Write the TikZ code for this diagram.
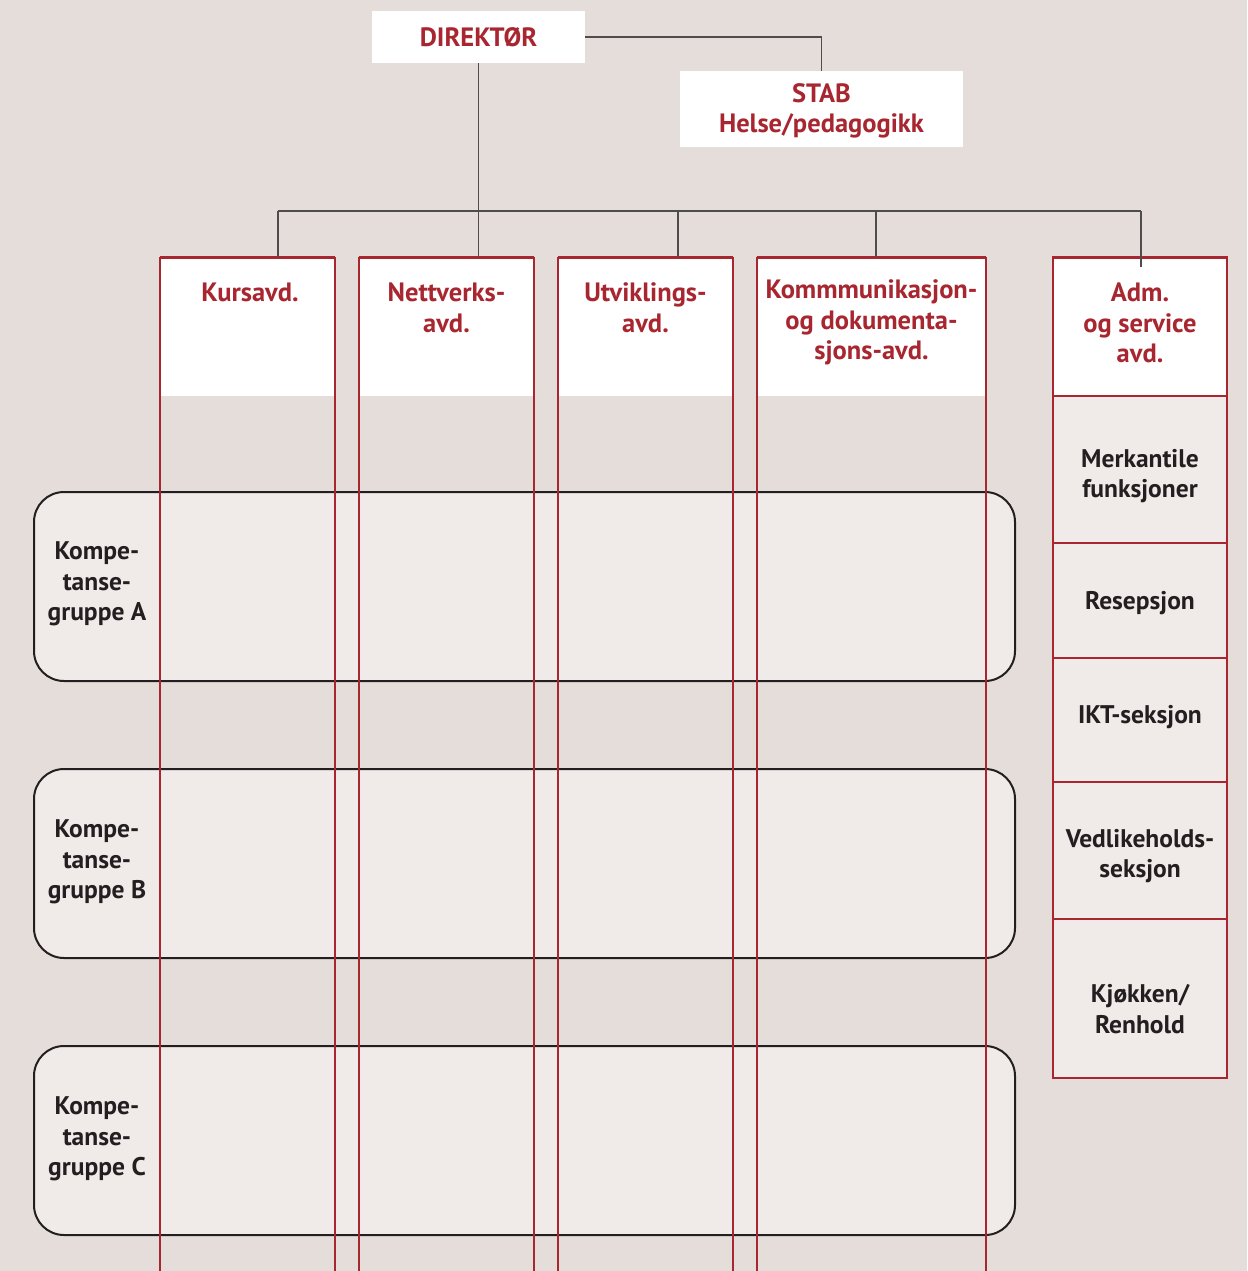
\documentclass[tikz,border=0pt]{standalone}
\usepackage{fontspec}
\setmainfont{PT Sans}
\definecolor{bgc}{RGB}{229,221,217}
\definecolor{lightc}{RGB}{240,235,232}
\definecolor{redc}{RGB}{168,38,48}
\definecolor{darkc}{RGB}{35,31,32}
\begin{document}
\begin{tikzpicture}[x=1pt,y=-1pt,
  every node/.style={inner sep=0pt,outer sep=0pt},
  topbox/.style={fill=white,minimum width=#1,anchor=center},
  hdr/.style={fill=white,minimum width=#1,minimum height=139pt,anchor=north},
  cell/.style={fill=lightc,draw=redc,line width=2.4pt,minimum width=174pt,minimum height=#1},
  grp/.style={fill=lightc,draw=darkc,line width=2pt,rounded corners=30pt,minimum width=981pt,minimum height=189pt},
  redtxt/.style={text=redc,font=\fontsize{26.5}{30.5}\selectfont\bfseries,align=center},
  blktxt/.style={text=darkc,font=\fontsize{25.5}{30.5}\selectfont\bfseries,align=center},
  redline/.style={draw=redc,line width=2.6pt},
  conn/.style={draw=darkc!80,line width=1.1pt}]
\useasboundingbox (0,0) rectangle (1247,1271);
\fill[bgc] (0,0) rectangle (1247,1271);

% top boxes
\node[topbox=213pt,minimum height=52pt] (dir) at (478.5,37) {};
\node[redtxt] (dirt) at (478.5,37) {DIREKTØR};
\node[topbox=283pt,minimum height=76pt] (stab) at (821.5,109) {};
\node[redtxt] (stabt) at (821.5,111) {STAB\\Helse/pedagogikk};

% column headers
\node[hdr=175pt] (kurs) at (247.5,257) {};
\node[hdr=175pt] (nett) at (446.5,257) {};
\node[hdr=175pt] (utv) at (645.5,257) {};
\node[hdr=229pt] (komm) at (871.5,257) {};
\node[hdr=174pt] (adm) at (1140,257) {};

% adm cells
\node[cell=147pt] (merk) at (1140,469.5) {};
\node[cell=115pt] (res) at (1140,600.5) {};
\node[cell=124pt] (ikt) at (1140,720) {};
\node[cell=137pt] (ved) at (1140,850.5) {};
\node[cell=159pt] (kjo) at (1140,998.5) {};
\draw[redline] (adm.south west) -- (adm.north west) -- (adm.north east) -- (adm.south east);
\draw[redc,line width=3pt] (adm.north west) -- (adm.north east);
\draw[redline] (adm.south west) -- (kjo.south west) -- (kjo.south east) -- (adm.south east);

% competence groups
\node[grp] (ga) at (524.5,586.5) {};
\node[grp] (gb) at (524.5,863.5) {};
\node[grp] (gc) at (524.5,1140.5) {};

% column lines
\foreach \c in {kurs,nett,utv,komm}{
  \draw[redline] (\c.north west) -- (\c.north west |- 0,1271);
  \draw[redline] (\c.north east) -- (\c.north east |- 0,1271);
  \draw[redc,line width=3pt] (\c.north west) -- (\c.north east);
}

% header texts
\node[redtxt,anchor=north] (kurst) at (250,283) {Kursavd.};
\node[redtxt,anchor=north] (nettt) at (446.5,283) {Nettverks-\\avd.};
\node[redtxt,anchor=north] (utvt) at (645.5,283) {Utviklings-\\avd.};
\node[redtxt,anchor=north] (kommt) at (871.5,280) {Kommmunikasjon-\\og dokumenta-\\sjons-avd.};
\node[redtxt,anchor=north] (admt) at (1140,283) {Adm.\\og service\\avd.};

% cell texts
\node[blktxt] (merkt) at (1140,476) {Merkantile\\funksjoner};
\node[blktxt] (rest) at (1140,603) {Resepsjon};
\node[blktxt] (iktt) at (1140,717) {IKT-seksjon};
\node[blktxt] (vedt) at (1140,856) {Vedlikeholds-\\seksjon};
\node[blktxt] (kjot) at (1140,1009) {Kjøkken/\\Renhold};

% group texts
\node[blktxt] (gat) at (97,584) {Kompe-\\tanse-\\gruppe A};
\node[blktxt] (gbt) at (97,862) {Kompe-\\tanse-\\gruppe B};
\node[blktxt] (gct) at (97,1139) {Kompe-\\tanse-\\gruppe C};

% connectors
\coordinate (b1) at (278,211);
\coordinate (b2) at (dir.south |- b1);
\coordinate (b3) at (678,211);
\coordinate (b4) at (876,211);
\coordinate (b5) at (1141,211);
\draw[conn] (dir.east) -| (stab.north);
\draw[conn] (dir.south) -- (b2);
\draw[conn] (b1) -- (b5);
\draw[conn] (b1) -- (b1 |- kurs.north);
\draw[conn] (b2) -- (b2 |- nett.north);
\draw[conn] (b3) -- (b3 |- utv.north);
\draw[conn] (b4) -- (b4 |- komm.north);
\draw[conn] (b5) -- (1141,267);
\end{tikzpicture}
\end{document}
